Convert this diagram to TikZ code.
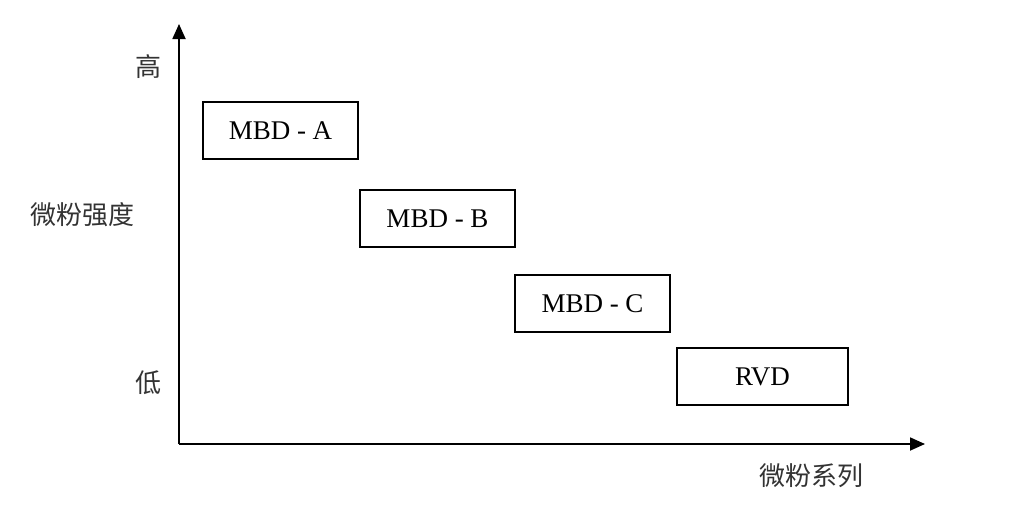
\documentclass[tikz,border=0pt]{standalone}
\usepackage{fontspec}
\setmainfont{Liberation Serif}
\newfontfamily\cjk{Noto Sans CJK SC}
\usepackage{tikz}
\usetikzlibrary{arrows.meta}
\tikzset{
    series/.style={draw,line width=1.6pt,minimum width=155pt,minimum height=57pt,inner sep=0pt,font=\fontsize{27}{30}\selectfont},
    axis/.style={line width=1.8pt,-{Triangle[length=15pt,width=13pt]}},
    axislabel/.style={font=\cjk\fontsize{26}{30}\selectfont,text=black!80}
}

\begin{document}
\begin{tikzpicture}[x=1pt,y=-1pt]
\useasboundingbox (0,0) rectangle (1024,514);
\coordinate (o) at (179,444);
\coordinate (ytip) at (179,24);
\coordinate (xtip) at (925,444);
\draw[axis] (o) -- (ytip);
\draw[axis] (o) -- (xtip);
\foreach \x/\y/\w/\p/\labeltext in {280.5/130.5/155/mbda/{MBD - A}, 437.5/218.5/155/mbdb/{MBD - B}, 592.5/303.5/155/mbdc/{MBD - C}, 762.5/376.5/171/rvd/{RVD}}{
    \node[series,minimum width=\w] (\p) at (\x,\y) {\labeltext};
}
\node[axislabel] (high) at (148,67) {高};
\node[axislabel] (low) at (148,383) {低};
\node[axislabel] (strength) at (82,215) {微粉强度};
\node[axislabel] (serieslabel) at (811,476) {微粉系列};
\end{tikzpicture}
\end{document}
